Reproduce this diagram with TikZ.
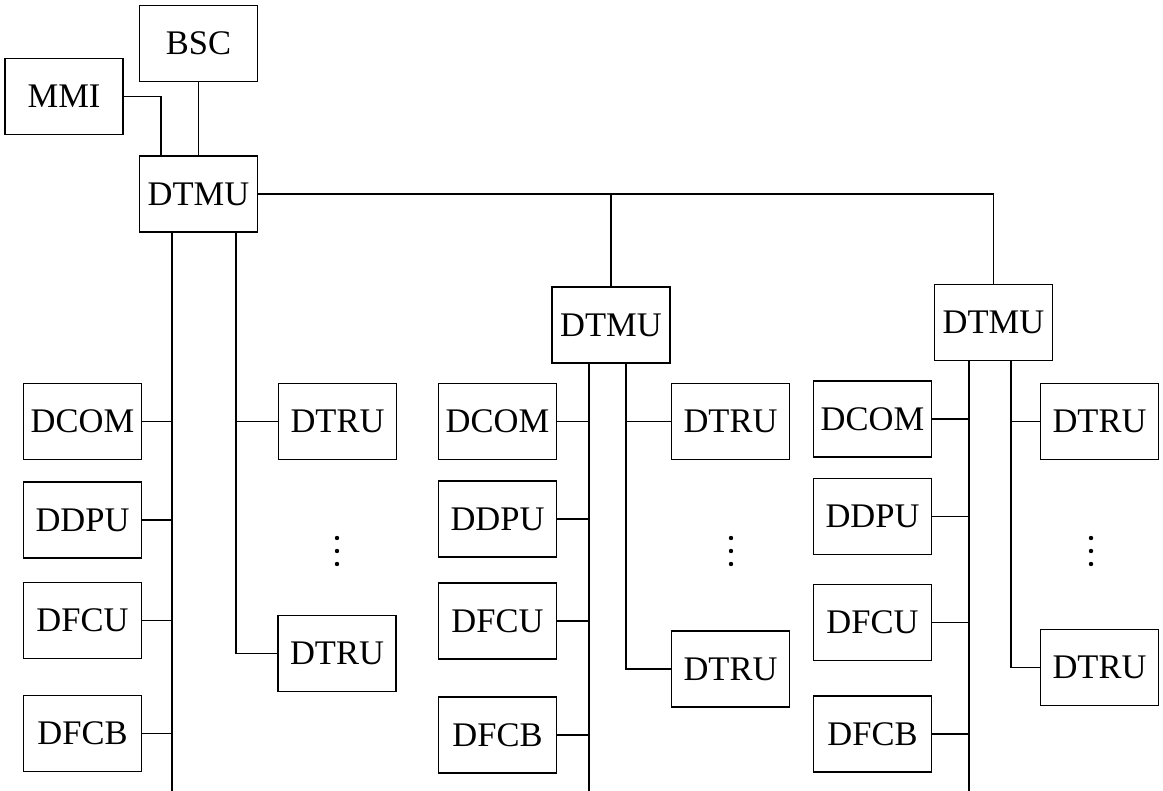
\documentclass[tikz,border=0pt]{standalone}
\usepackage{fontspec}
\setmainfont{Liberation Serif}
\begin{document}
\begin{tikzpicture}[x=1pt,y=-1pt,
  box/.style={draw, line width=1.8pt, minimum width=118pt, minimum height=76pt, inner sep=0pt,
    font=\fontsize{34.5}{40}\selectfont},
  wire/.style={line width=1.8pt},
  dot/.style={fill=black}]
\useasboundingbox (0,0) rectangle (1163,791);
% top level
\node[box] (bsc) at (198.5,43.5) {BSC};
\node[box] (mmi) at (64,96.5) {MMI};
\node[box] (dtmu1) at (198.5,194) {DTMU};
\node[box] (dtmu2) at (611,325) {DTMU};
\node[box] (dtmu3) at (993.5,322.5) {DTMU};
% group 1
\node[box] (dcom1) at (82.5,421.5) {DCOM};
\node[box] (ddpu1) at (82.5,520) {DDPU};
\node[box] (dfcu1) at (82.5,620.5) {DFCU};
\node[box] (dfcb1) at (82.5,733.5) {DFCB};
\node[box] (dtru1a) at (337.5,421.5) {DTRU};
\node[box] (dtru1b) at (337,653.5) {DTRU};
% group 2
\node[box] (dcom2) at (497.5,421.5) {DCOM};
\node[box] (ddpu2) at (497.5,519) {DDPU};
\node[box] (dfcu2) at (497.5,621) {DFCU};
\node[box] (dfcb2) at (497.5,735) {DFCB};
\node[box] (dtru2a) at (730.5,421.5) {DTRU};
\node[box] (dtru2b) at (730.5,669) {DTRU};
% group 3
\node[box] (dcom3) at (872.5,419) {DCOM};
\node[box] (ddpu3) at (872.5,516.5) {DDPU};
\node[box] (dfcu3) at (872.5,622.5) {DFCU};
\node[box] (dfcb3) at (872.5,734) {DFCB};
\node[box] (dtru3a) at (1099.5,421.5) {DTRU};
\node[box] (dtru3b) at (1099.5,667.5) {DTRU};
% junction coordinates
\coordinate (mj) at (161,96.5);
\coordinate (t1) at (172,791);
\coordinate (r1) at (236,0);
\coordinate (t2) at (589,791);
\coordinate (r2) at (626,0);
\coordinate (t3) at (969,791);
\coordinate (r3) at (1011,0);
% top connectors
\draw[wire] (mmi.east) -- (mj) -- (mj |- dtmu1.north);
\draw[wire] (bsc.south) -- (dtmu1.north);
\draw[wire] (dtmu1.east) -| (dtmu3.north);
\draw[wire] (dtmu1.east -| dtmu2.north) -- (dtmu2.north);
% group 1 connectors
\draw[wire] (dtmu1.south -| t1) -- (t1);
\foreach \n in {dcom1,ddpu1,dfcu1,dfcb1} \draw[wire] (\n.east) -- (\n.east -| t1);
\draw[wire] (dtmu1.south -| r1) |- (dtru1b.west);
\draw[wire] (dtru1a.west) -- (dtru1a.west -| r1);
% group 2 connectors
\draw[wire] (dtmu2.south -| t2) -- (t2);
\foreach \n in {dcom2,ddpu2,dfcu2,dfcb2} \draw[wire] (\n.east) -- (\n.east -| t2);
\draw[wire] (dtmu2.south -| r2) |- (dtru2b.west);
\draw[wire] (dtru2a.west) -- (dtru2a.west -| r2);
% group 3 connectors
\draw[wire] (dtmu3.south -| t3) -- (t3);
\foreach \n in {dcom3,ddpu3,dfcu3,dfcb3} \draw[wire] (\n.east) -- (\n.east -| t3);
\draw[wire] (dtmu3.south -| r3) |- (dtru3b.west);
\draw[wire] (dtru3a.west) -- (dtru3a.west -| r3);
% ellipsis dots
\foreach \x in {337,731,1091}
  \foreach \y in {538,551,564}
    \fill[dot] (\x,\y) circle (2.2pt);
\end{tikzpicture}
\end{document}
